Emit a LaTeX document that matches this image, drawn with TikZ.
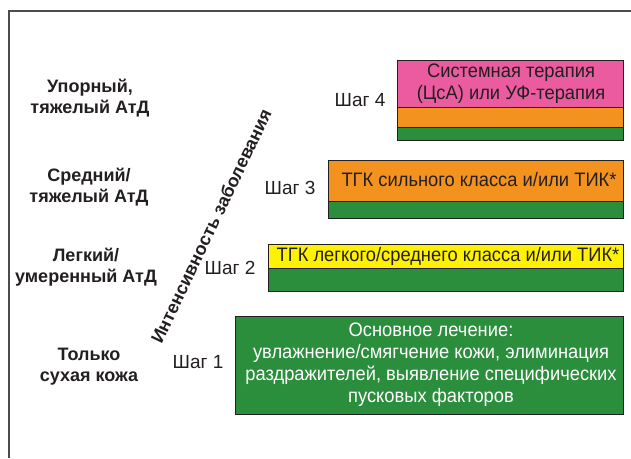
\documentclass[tikz,border=0pt]{standalone}
\usepackage{fontspec}
\setmainfont{Liberation Sans}
\newfontfamily\condfont[FakeStretch=0.94]{Liberation Sans}
\definecolor{pinkS}{HTML}{EA5BA0}
\definecolor{orangeS}{HTML}{F4921F}
\definecolor{greenS}{HTML}{2A8E3C}
\definecolor{yellowS}{HTML}{FFF200}
\definecolor{inkS}{HTML}{231F20}
\begin{document}
\begin{tikzpicture}[x=1pt,y=-1pt,
  band/.style={draw=inkS, line width=0.9pt},
  lab/.style={font=\fontsize{18}{21}\selectfont\bfseries, align=center, text=inkS},
  steplab/.style={font=\fontsize{19}{22}\selectfont, anchor=east, text=inkS},
  boxtext/.style={font=\condfont\fontsize{19.5}{22}\selectfont, align=center, text=inkS}]
\useasboundingbox (0,0) rectangle (631,458);
% frame
\draw[line width=2pt, black!70] (9,458) -- (9,11) -- (631,11);
% step 4
\path[band, fill=pinkS] (397,60) rectangle (623,107);
\path[band, fill=orangeS] (397,107) rectangle (623,127);
\path[band, fill=greenS] (397,127) rectangle (623,140);
\node[boxtext] (s4t) at (511,84) {Системная терапия\\(ЦсА) или УФ-терапия};
\node[steplab] (s4) at (389,100) {Шаг 4};
% step 3
\path[band, fill=orangeS] (328,160) rectangle (623,201);
\path[band, fill=greenS] (328,201) rectangle (623,218);
\node[boxtext] (s3t) at (479,180) {ТГК сильного класса и/или ТИК*};
\node[steplab] (s3) at (319,188) {Шаг 3};
% step 2
\path[band, fill=yellowS] (268,244) rectangle (623,268);
\path[band, fill=greenS] (268,268) rectangle (623,291);
\node[boxtext] (s2t) at (448,256) {ТГК легкого/среднего класса и/или ТИК*};
\node[steplab] (s2) at (259,268) {Шаг 2};
% step 1
\path[band, fill=greenS] (235,316) rectangle (623,414);
\node[boxtext, text=white] (s1t) at (431,365) {Основное лечение:\\увлажнение/смягчение кожи, элиминация\\раздражителей, выявление специфических\\пусковых факторов};
\node[steplab] (s1) at (227,362) {Шаг 1};
% severity labels
\node[lab] (l4) at (90,98) {Упорный,\\тяжелый АтД};
\node[lab] (l3) at (89,187) {Средний/\\тяжелый АтД};
\node[lab] (l2) at (86,267) {Легкий/\\умеренный АтД};
\node[lab] (l1) at (89,367) {Только\\сухая кожа};
% axis label
\node[font=\fontsize{18}{20}\selectfont\bfseries, text=inkS, rotate=64.5] (ax) at (211,226) {Интенсивность заболевания};
\end{tikzpicture}
\end{document}
